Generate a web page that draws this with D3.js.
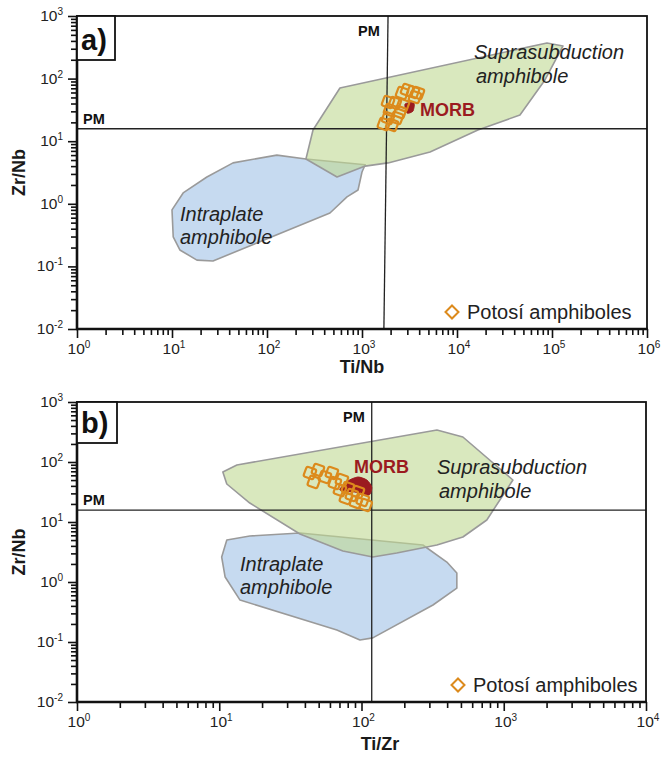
<!DOCTYPE html>
<html><head><meta charset="utf-8">
<script src="https://cdn.jsdelivr.net/npm/d3@7"></script>
<style>body{margin:0;background:#fff}svg{display:block}text{font-family:"Liberation Sans",Arial,sans-serif}</style>
</head><body><svg id="c" width="662" height="761"></svg>
<script>
// ---------- DATA ----------
const pmZrNb = 15.8;
const pmTiNbTop = 1880, pmTiNbBottom = 1700;
const pmTiZr = 118;
const xExpA = [0,1,2,3,4,5,6];
const xExpB = [0,1,2,3,4];
const yExp = [-2,-1,0,1,2,3];

const supraA = [[257,5.2],[305,15.1],[586,70.8],[88500,371],[130600,332],[84300,95],[46000,26.2],[16600,15.1],[5200,6.7],[1880,4.5],[1080,4.0],[546,2.68]];
const intraA = [[1080,4.2],[257,5.2],[127,6.0],[43.9,4.5],[23.3,2.68],[13.1,1.49],[10.0,0.80],[10.3,0.295],[12.1,0.183],[18.3,0.126],[27.0,0.122],[460,0.713],[695,1.29],[908,1.66],[1000,3.22]];
const morbA = [[2840,39.3],[3520,40.7],[3440,30.3],[2980,28.2]];
const potosiTiNb = [1880,1970,1880,2330,2220,2640,2980,3440,3880,3610,2700,2510,1700,2070];
const potosiZrNbA = [42.3,31.5,23.5,23.5,40.7,58.9,65.8,61.1,58.9,50.8,37.8,29.2,18.8,18.2];

const supraB = [[10.6,68.1],[13.3,89.1],[339,341],[516,261],[1160,50.1],[760,10.8],[516,5.62],[339,4.14],[177,3.04],[120,2.61],[74,3.29],[36.9,6.31],[16.4,20.7],[11.3,43.0]];
const intraB = [[11.3,5.0],[16.4,5.85],[36.9,6.56],[270,4.14],[398,2.15],[468,1.41],[468,0.79],[318,0.414],[120,0.117],[97.5,0.108],[67.1,0.158],[14.0,0.50],[11.0,1.21],[10.4,2.61]];
const morbB = [[70.5,34.1],[80.2,48.2],[94.4,56.2],[109,50.1],[118,38.3],[113,28.2],[89.9,31.6]];
const potosiTiZr = [43.4,49.4,46.2,55.3,61.9,65.0,72.8,70.5,80.2,85.5,94.4,91.4,102,107,77.6];
const potosiZrNbB = [65.6,73.6,46.5,56.2,65.6,44.7,50.1,34.1,36.9,28.2,31.6,21.5,23.3,19.2,25.1];

// ---------- STYLE ----------
const C = {green:"rgb(192,217,147)", blue:"rgb(160,193,230)", edge:"#9a9a9a", orange:"#dc8a1c", morb:"#9b1b20", ink:"#1a1a1a"};
const svg = d3.select("#c");

function panel(o){
  const g = svg.append("g");
  const x = d3.scaleLog().domain(o.xDom).range([o.left,o.right]);
  const y = d3.scaleLog().domain([1e-2,1e3]).range([o.bottom,o.top]);
  const line = d3.line().x(d=>x(d[0])).y(d=>y(d[1])).curve(d3.curveLinearClosed);
  g.append("path").attr("d",line(o.intra)).attr("fill",C.blue).attr("fill-opacity",0.6).attr("stroke",C.edge).attr("stroke-width",1.6).attr("stroke-linejoin","round");
  g.append("path").attr("d",line(o.supra)).attr("fill",C.green).attr("fill-opacity",0.6).attr("stroke",C.edge).attr("stroke-width",1.6).attr("stroke-linejoin","round");
  g.append("line").attr("x1",o.left).attr("x2",o.right).attr("y1",y(pmZrNb)).attr("y2",y(pmZrNb)).attr("stroke","#222").attr("stroke-width",1.3);
  g.append("line").attr("x1",x(o.pmTop)).attr("x2",x(o.pmBottom)).attr("y1",o.top).attr("y2",o.bottom).attr("stroke","#222").attr("stroke-width",1.3);
  g.append("path").attr("d",d3.line().x(d=>x(d[0])).y(d=>y(d[1])).curve(d3.curveCardinalClosed.tension(0.3))(o.morb)).attr("fill",C.morb).attr("stroke",C.morb).attr("stroke-width",1);
  const pts = o.px.map((v,i)=>[v,o.py[i]]);
  g.selectAll("rect.p").data(pts).join("rect").attr("class","p")
    .attr("x",-5.2).attr("y",-5.2).attr("width",10.4).attr("height",10.4).attr("rx",1.8)
    .attr("transform",d=>`translate(${x(d[0])},${y(d[1])}) rotate(20)`)
    .attr("fill","none").attr("stroke",C.orange).attr("stroke-width",2.2);
  const xMin=[], yMin=[];
  for(let e=Math.log10(o.xDom[0]); e<Math.log10(o.xDom[1]); e++) for(let k=2;k<10;k++) xMin.push(k*Math.pow(10,e));
  for(let e=-2; e<3; e++) for(let k=2;k<10;k++) yMin.push(k*Math.pow(10,e));
  const xMaj = o.xExp.map(e=>Math.pow(10,e)), yMaj = yExp.map(e=>Math.pow(10,e));
  const ax = (a)=>a.call(s=>{s.select(".domain").remove(); s.selectAll("line").attr("stroke","#111").attr("stroke-width",1.6);});
  g.append("g").attr("transform",`translate(0,${o.bottom})`).call(d3.axisBottom(x).tickValues(xMin).tickSize(6).tickFormat("")).call(ax);
  g.append("g").attr("transform",`translate(0,${o.bottom})`).call(d3.axisBottom(x).tickValues(xMaj).tickSize(9).tickFormat("")).call(ax);
  g.append("g").attr("transform",`translate(${o.left},0)`).call(d3.axisLeft(y).tickValues(yMin).tickSize(6).tickFormat("")).call(ax);
  g.append("g").attr("transform",`translate(${o.left},0)`).call(d3.axisLeft(y).tickValues(yMaj).tickSize(9).tickFormat("")).call(ax);
  g.append("rect").attr("x",o.left).attr("y",o.top).attr("width",o.right-o.left).attr("height",o.bottom-o.top).attr("fill","none").attr("stroke","#111").attr("stroke-width",1.8);
  g.append("line").attr("x1",o.left).attr("x2",o.left).attr("y1",o.top).attr("y2",o.bottom+1).attr("stroke","#111").attr("stroke-width",2.6);
  g.append("line").attr("x1",o.left-1).attr("x2",o.right+1).attr("y1",o.bottom).attr("y2",o.bottom).attr("stroke","#111").attr("stroke-width",2.6);
  o.xExp.forEach(e=>{
    const t = g.append("text").attr("x",x(Math.pow(10,e))+2).attr("y",o.bottom+25).attr("text-anchor","middle").attr("font-size",15.5).attr("fill","#222");
    t.append("tspan").text("10"); t.append("tspan").attr("dy",-6).attr("font-size",10).text(e);
  });
  yExp.forEach(e=>{
    const t = g.append("text").attr("x",o.left-14).attr("y",y(Math.pow(10,e))+5).attr("text-anchor","end").attr("font-size",15.5).attr("fill","#222");
    t.append("tspan").text("10"); t.append("tspan").attr("dy",-6).attr("font-size",10).text(e);
  });
  g.append("text").attr("x",o.xTitleX).attr("y",o.xTitleY).attr("text-anchor","middle").attr("font-size",18).attr("font-weight","bold").attr("fill",C.ink).text(o.xTitle);
  g.append("text").attr("transform",`translate(25,${(o.top+o.bottom)/2}) rotate(-90)`).attr("text-anchor","middle").attr("font-size",18).attr("font-weight","bold").attr("fill",C.ink).text("Zr/Nb");
  g.append("rect").attr("x",o.left).attr("y",o.top).attr("width",o.boxW).attr("height",o.boxH).attr("fill","#fff").attr("stroke","#111").attr("stroke-width",1.8);
  g.append("text").attr("x",o.left+4).attr("y",o.top+o.boxH-10).attr("font-size",29).attr("font-weight","bold").attr("fill","#111").text(o.letter);
  g.append("text").attr("x",o.left+6).attr("y",y(pmZrNb)-5).attr("font-size",14.5).attr("font-weight","bold").attr("fill","#111").text("PM");
  g.append("text").attr("x",o.pmLabX).attr("y",o.top+20).attr("font-size",14.5).attr("font-weight","bold").attr("fill","#111").text("PM");
  const it = (tx,xx,yy)=>g.append("text").attr("x",xx).attr("y",yy).attr("font-size",20).attr("font-style","italic").attr("fill","#222").text(tx);
  it("Suprasubduction",o.supLab[0],o.supLab[1]); it("amphibole",o.supLab[0]+2,o.supLab[1]+24);
  it("Intraplate",o.intLab[0],o.intLab[1]); it("amphibole",o.intLab[0],o.intLab[1]+23);
  g.append("text").attr("x",o.morbLab[0]).attr("y",o.morbLab[1]).attr("font-size",18).attr("font-weight","bold").attr("fill",C.morb).text("MORB");
  g.append("path").attr("d","M0,-6.5L6.5,0L0,6.5L-6.5,0Z").attr("transform",`translate(${o.leg[0]},${o.leg[1]})`).attr("fill","none").attr("stroke",C.orange).attr("stroke-width",2);
  g.append("text").attr("x",o.leg[0]+15).attr("y",o.leg[1]+7).attr("font-size",20).attr("fill","#222").text("Potosí amphiboles");
}

panel({xDom:[1,1e6], xExp:xExpA, left:77,right:647,top:16,bottom:329, supra:supraA, intra:intraA, morb:morbA,
  px:potosiTiNb, py:potosiZrNbA, pmTop:pmTiNbTop, pmBottom:pmTiNbBottom, xTitle:"Ti/Nb", xTitleX:362, xTitleY:373,
  letter:"a)", boxW:38, boxH:44, pmLabX:358, supLab:[474,59], intLab:[180,221], morbLab:[420,116], leg:[452,312]});
panel({xDom:[1,1e4], xExp:xExpB, left:77,right:646,top:402,bottom:702, supra:supraB, intra:intraB, morb:morbB,
  px:potosiTiZr, py:potosiZrNbB, pmTop:pmTiZr, pmBottom:pmTiZr, xTitle:"Ti/Zr", xTitleX:380, xTitleY:750,
  letter:"b)", boxW:40, boxH:41, pmLabX:343, supLab:[437,474], intLab:[240,571], morbLab:[354,473], leg:[458,685]});
</script></body></html>
